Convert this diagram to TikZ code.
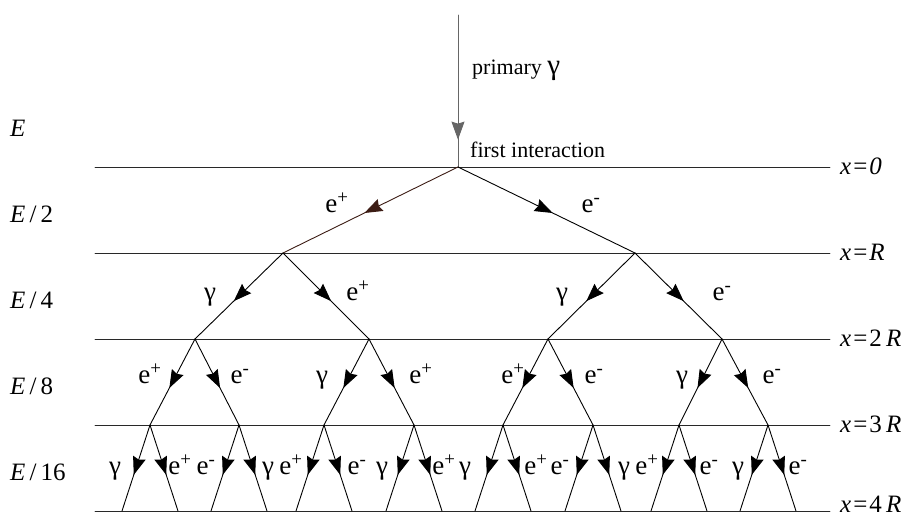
\documentclass[tikz,border=0pt]{standalone}
\usepackage{fontspec}
\setmainfont{Liberation Serif}
\usetikzlibrary{arrows.meta,decorations.markings}
\definecolor{showerline}{RGB}{40,40,40}
\definecolor{showerbrown}{RGB}{60,28,20}
\newcommand{\posi}{e\textsuperscript{+}}
\newcommand{\nega}{e\textsuperscript{-}}
\newcommand{\phot}{γ}

\tikzset{
 depthline/.style={draw=showerline,line width=0.9pt},
 branch/.style={line width=0.9pt,postaction={decorate},
 decoration={markings,mark=at position #1 with
 {\arrow{Stealth[length=18pt,width=13pt,inset=2pt]}}}},
 branch/.default=.56,
 partlabel/.style={font=\fontsize{27}{30}\selectfont,anchor=base,inner sep=0pt},
 sidelabel/.style={font=\fontsize{25}{30}\selectfont,anchor=base west,inner sep=0pt},
 notelabel/.style={font=\fontsize{22}{26}\selectfont,anchor=base west,inner sep=0pt}
}

\begin{document}
\begin{tikzpicture}[x=1pt,y=-1pt,>=Stealth,line cap=round]
\useasboundingbox (0,0) rectangle (914,518);
% depth lines, energies and depths
\foreach \i/\y/\yd/\en/\dep in {0/167/175/{\textit{E}}/{\textit{x}\hspace{2pt}=\hspace{2pt}\textit{0}},
 1/253/261/{\textit{E}\,/\,2}/{\textit{x}\hspace{2pt}=\hspace{2pt}\textit{R}},
 2/339/347/{\textit{E}\,/\,4}/{\textit{x}\hspace{2pt}=\hspace{2pt}2\,\textit{R}},
 3/425/433/{\textit{E}\,/\,8}/{\textit{x}\hspace{2pt}=\hspace{2pt}3\,\textit{R}},
 4/511/513/{\textit{E}\,/\,16}/{\textit{x}\hspace{2pt}=\hspace{2pt}4\,\textit{R}}}{
 \coordinate (w\i) at (95,\y);
 \coordinate (e\i) at (830,\y);
 \draw[depthline] (w\i) -- (e\i);
 \node[sidelabel] (dep\i) at (840,\yd) {\dep};
 \node[sidelabel] (en\i) at (10,\y-30) {\en};
}
% vertices
\coordinate (src) at (458,15);
\coordinate (v0) at (458,167);
\foreach \x [count=\k] in {283,635} \coordinate (a\k) at (\x,253);
\foreach \x [count=\k] in {195,369,548,722} \coordinate (b\k) at (\x,339);
\foreach \x [count=\k] in {150,239,324,414,503,593,679,768} \coordinate (c\k) at (\x,425);
\foreach \x [count=\k] in {122,178,211,267,296,352,386,442,475,531,565,621,651,707,740,796}
 \coordinate (d\k) at (\x,511);
% primary photon
\draw[branch=.82,gray!80!black] (src) -- (v0);
\node[notelabel] (prim) at (472,75) {primary {\fontsize{29}{30}\selectfont γ}};
\node[notelabel] (first) at (470,158) {first interaction};
% cascade
\draw[branch=.535,showerbrown] (v0) -- (a1);
\draw[branch=.535] (v0) -- (a2);
\foreach \p/\l/\r in {a1/b1/b2,a2/b3/b4}{
 \draw[branch=.56] (\p) -- (\l);
 \draw[branch=.56] (\p) -- (\r);
}
\foreach \p/\l/\r in {b1/c1/c2,b2/c3/c4,b3/c5/c6,b4/c7/c8}{
 \draw[branch=.57] (\p) -- (\l);
 \draw[branch=.57] (\p) -- (\r);
}
\foreach \p/\l/\r in {c1/d1/d2,c2/d3/d4,c3/d5/d6,c4/d7/d8,c5/d9/d10,c6/d11/d12,c7/d13/d14,c8/d15/d16}{
 \draw[branch=.58] (\p) -- (\l);
 \draw[branch=.58] (\p) -- (\r);
}
% particle labels
\foreach \x/\t [count=\k] in {337/\posi,591/\nega}
 \node[partlabel] (pa\k) at (\x,213) {\t};
\foreach \x/\t [count=\k] in {210/\phot,358/\posi,562/\phot,722/\nega}
 \node[partlabel] (pb\k) at (\x,301) {\t};
\foreach \x/\t [count=\k] in {150/\posi,240/\nega,322/\phot,421/\posi,513/\posi,594/\nega,682/\phot,772/\nega}
 \node[partlabel] (pc\k) at (\x,384) {\t};
\foreach \x/\t [count=\k] in {115/\phot,180/\posi,206/\nega,268/\phot,291/\posi,357/\nega,382/\phot,444/\posi,
 465/\phot,536/\posi,560/\nega,624/\phot,647/\posi,709/\nega,738/\phot,798/\nega}
 \node[partlabel] (pd\k) at (\x,475) {\t};
\end{tikzpicture}
\end{document}
